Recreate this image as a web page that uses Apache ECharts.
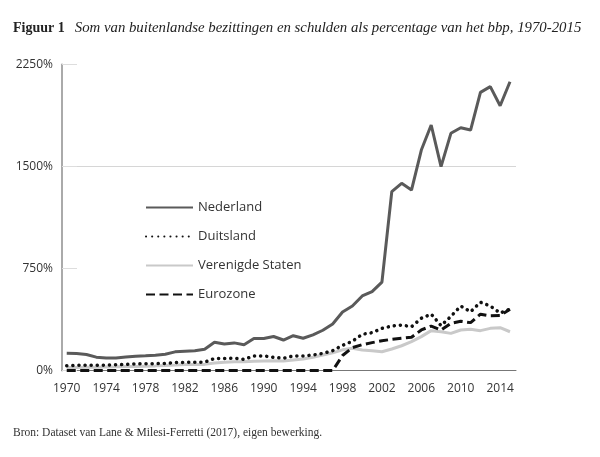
<!DOCTYPE html>
<html>
<head>
<meta charset="utf-8">
<script src="https://cdn.jsdelivr.net/npm/echarts@6/dist/echarts.min.js"></script>
<style>
html,body{margin:0;padding:0;background:#fff;}
#chart{width:600px;height:457px;}
</style>
</head>
<body>
<div id="chart"></div>
<script>
var years = [];
for (var y = 1970; y <= 2015; y++) years.push(y);

var nederland = [126,125,118,98,92,92,99,105,108,113,120,137,142,146,156,207,195,203,190,235,235,250,224,256,237,262,296,342,430,474,548,580,650,1315,1376,1327,1621,1805,1499,1744,1785,1768,2045,2087,1947,2123];
var duitsland = [35,38,38,38,40,42,45,48,50,50,52,58,60,60,62,88,88,90,82,107,107,97,90,107,107,114,126,146,185,215,266,278,310,327,334,322,384,415,330,398,474,432,502,474,422,452];
var verenigdeStaten = [22,22,23,23,25,27,30,30,32,34,37,40,45,45,45,55,60,65,65,68,70,72,70,78,85,98,114,130,152,163,151,146,138,158,182,212,249,293,285,273,298,303,293,310,315,285];
var eurozone = [0,0,0,0,0,0,0,0,0,0,0,0,0,0,0,0,0,0,0,0,0,0,0,0,0,0,0,0,110,168,190,205,219,229,237,244,298,327,298,347,362,352,414,402,404,450];

var xTickLabels = [1970,1974,1978,1982,1986,1990,1994,1998,2002,2006,2010,2014];

function pairs(arr){ return years.map(function(yr,i){ return [yr, arr[i]]; }); }

var chart = echarts.init(document.getElementById('chart'));
var sans = 'Open Sans';
chart.setOption({
  animation: false,
  title: [{
    left: 13, top: 19, padding: 0,
    text: '{b|Figuur 1}  {i|Som van buitenlandse bezittingen en schulden als percentage van het bbp, 1970-2015}',
    textStyle: {
      fontWeight: 'normal',
      rich: {
        b: {fontFamily: 'Liberation Serif', fontWeight: 'bold', fontSize: 14, color: '#222'},
        i: {fontFamily: 'Liberation Serif', fontStyle: 'italic', fontWeight: 'normal', fontSize: 14.8, color: '#222'}
      }
    }
  },{
    left: 13, top: 427, padding: 0,
    text: 'Bron: Dataset van Lane & Milesi-Ferretti (2017), eigen bewerking.',
    textStyle: {fontFamily: 'Liberation Serif', fontWeight: 'normal', fontSize: 11.5, color: '#333'}
  }],
  grid: {left: 62, right: 84, top: 64.5, bottom: 86.5},
  legend: {
    orient: 'vertical', left: 140, top: 196,
    itemWidth: 47, itemHeight: 14, itemGap: 16,
    itemStyle: {opacity: 0},
    textStyle: {fontFamily: sans, fontSize: 13, color: '#333'},
    data: ['Nederland','Duitsland','Verenigde Staten','Eurozone']
  },
  xAxis: {
    type: 'value', min: 1969.52, max: 2015.61,
    axisLine: {show: true, lineStyle: {color: '#777', width: 1}},
    axisTick: {show: false},
    splitLine: {show: false},
    axisLabel: {customValues: xTickLabels, margin: 12, fontFamily: sans, fontSize: 12, color: '#333',
      formatter: function(v){ return String(v); }}
  },
  yAxis: {
    type: 'value', min: 0, max: 2250, interval: 750,
    axisLine: {show: true, lineStyle: {color: '#aaa', width: 2}},
    axisTick: {show: true, inside: true, length: 15, lineStyle: {color: '#ddd'}},
    splitLine: {show: true, lineStyle: {color: ['rgba(0,0,0,0)','rgba(0,0,0,0)','#d6d6d6','rgba(0,0,0,0)'], width: 1}},
    axisLabel: {margin: 9, fontFamily: sans, fontSize: 12, color: '#333', formatter: function(v){ return v + '%'; }}
  },
  series: [
    {name: 'Verenigde Staten', type: 'line', symbol: 'none', data: pairs(verenigdeStaten), z: 2,
     lineStyle: {color: '#c9c9c9', width: 3}, itemStyle: {color: '#c9c9c9'}},
    {name: 'Eurozone', type: 'line', symbol: 'none', data: pairs(eurozone), z: 3,
     lineStyle: {color: '#111', width: 3, type: [9,4.5]}, itemStyle: {color: '#111'}},
    {name: 'Duitsland', type: 'line', symbol: 'none', data: pairs(duitsland), z: 4,
     lineStyle: {color: '#111', width: 3.5, type: [0.1,6], cap: 'round'}, itemStyle: {color: '#111'}},
    {name: 'Nederland', type: 'line', symbol: 'none', data: pairs(nederland), z: 5,
     lineStyle: {color: '#5a5a5a', width: 3}, itemStyle: {color: '#5a5a5a'}}
  ]
});
</script>
</body>
</html>
